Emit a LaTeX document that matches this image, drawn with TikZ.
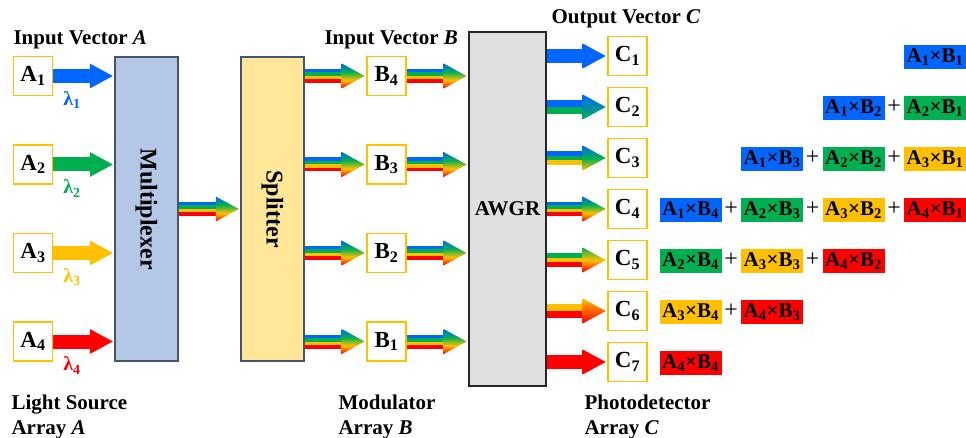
\documentclass[tikz,border=0pt]{standalone}
\usepackage{fontspec}
\setmainfont{Liberation Serif}
\usetikzlibrary{calc}

\definecolor{lblue}{RGB}{0,102,255}
\definecolor{lgreen}{RGB}{0,176,80}
\definecolor{lorange}{RGB}{255,192,0}
\definecolor{lred}{RGB}{255,0,0}
\definecolor{muxfill}{RGB}{180,199,231}
\definecolor{edgegray}{RGB}{68,84,106}
\definecolor{splitfill}{RGB}{255,230,153}
\definecolor{awgrfill}{RGB}{224,224,224}

\newcommand{\headfont}{\fontsize{21}{25}\selectfont\bfseries}
\newcommand{\cellfont}{\fontsize{23}{26}\selectfont\bfseries}
\newcommand{\lamfont}{\fontsize{20}{24}\selectfont\bfseries}
\newcommand{\blockfont}{\fontsize{24}{28}\selectfont\bfseries}

% arrow head shadings (bottom to top)
\pgfdeclareverticalshading{shB}{100bp}{color(0bp)=(lblue); color(100bp)=(lblue)}
\pgfdeclareverticalshading{shG}{100bp}{color(0bp)=(lgreen); color(100bp)=(lgreen)}
\pgfdeclareverticalshading{shO}{100bp}{color(0bp)=(lorange); color(100bp)=(lorange)}
\pgfdeclareverticalshading{shR}{100bp}{color(0bp)=(lred); color(100bp)=(lred)}
\pgfdeclareverticalshading{shBG}{100bp}{color(0bp)=(lgreen); color(25bp)=(lgreen); color(75bp)=(lblue); color(100bp)=(lblue)}
\pgfdeclareverticalshading{shBGO}{100bp}{color(0bp)=(lorange); color(25bp)=(lorange); color(50bp)=(lgreen); color(75bp)=(lblue); color(100bp)=(lblue)}
\pgfdeclareverticalshading{shBGOR}{100bp}{color(0bp)=(lred); color(25bp)=(lred); color(41.67bp)=(lorange); color(58.33bp)=(lgreen); color(75bp)=(lblue); color(100bp)=(lblue)}
\pgfdeclareverticalshading{shGOR}{100bp}{color(0bp)=(lred); color(25bp)=(lred); color(50bp)=(lorange); color(75bp)=(lgreen); color(100bp)=(lgreen)}
\pgfdeclareverticalshading{shOR}{100bp}{color(0bp)=(lred); color(25bp)=(lred); color(75bp)=(lorange); color(100bp)=(lorange)}

% striped block arrow: from, to, stripe colours (top to bottom), head shading
\newcommand{\flowarrow}[4]{%
  \foreach \scol [count=\sk] in {#3} {\xdef\stripen{\sk}}
  \path (#1) coordinate (fs) ($(#2)+(-1.5,0)$) coordinate (fe);
  \foreach \scol [count=\sk] in {#3} {
    \fill[fill=\scol] ($(fs)+(0,{-7+(\sk-1)*14/\stripen})$) rectangle ($(fe)+(-22.5,7)$);
  }
  \shade[shading=#4] ($(fe)+(-23,-12.5)$) -- (fe) -- ($(fe)+(-23,12.5)$) -- cycle;
}

\begin{document}
\begin{tikzpicture}[x=1pt, y=-1pt, every node/.style={font=\headfont},
  cell/.style={draw=lorange, line width=1.6pt, fill=white, minimum size=39pt, inner sep=0pt, font=\cellfont},
  block/.style={line width=1.5pt, minimum width=63pt, minimum height=304pt},
  term/.style={fill=#1, minimum width=62pt, minimum height=24pt, inner sep=0pt, font=\headfont},
  lam/.style={text=#1, font=\lamfont}]
  \useasboundingbox (0,0) rectangle (966,438);

  % Headings
  \node[anchor=west] (hA) at (10,40) {Input Vector \textit{A}};
  \node[anchor=west] (hB) at (321,40) {Input Vector \textit{B}};
  \node[anchor=west] (hC) at (548,19) {Output Vector \textit{C}};

  % Light sources
  \foreach \i/\c in {1/lblue,2/lgreen,3/lorange,4/lred} {
    \node[cell] (A\i) at (33,{76+(\i-1)*88.5}) {A\textsubscript{\i}};
    \node[lam=\c] (l\i) at (72,{100+(\i-1)*88.5}) {λ\textsubscript{\i}};
  }

  % Blocks
  \node[block, draw=edgegray, fill=muxfill] (mux) at (146.5,209) {};
  \node[rotate=-90, font=\blockfont] (muxtxt) at (mux) {Multiplexer};
  \node[block, draw=edgegray, fill=splitfill] (split) at (272.5,209) {};
  \node[rotate=-90, font=\blockfont] (splittxt) at (split) {Splitter};
  \node[block, draw=black!85, line width=1.8pt, fill=awgrfill, minimum width=77pt, minimum height=354pt] (awgr) at (507.5,209) {};
  \node (awgrtxt) at (awgr) {AWGR};

  % Modulators
  \foreach \j in {1,...,4}
    \node[cell] (B\j) at (386.5,{76+(4-\j)*88.5}) {B\textsubscript{\j}};

  % Photodetectors
  \foreach \k in {1,...,7}
    \node[cell] (C\k) at (627.5,{56+(\k-1)*51}) {C\textsubscript{\k}};

  % Arrows
  \foreach \i/\c/\s in {1/lblue/shB,2/lgreen/shG,3/lorange/shO,4/lred/shR} {
    \flowarrow{A\i.east}{mux.west |- A\i}{\c}{\s}
  }
  \flowarrow{mux.east}{split.west}{lblue,lgreen,lorange,lred}{shBGOR}
  \foreach \j in {1,...,4} {
    \flowarrow{split.east |- B\j}{B\j.west}{lblue,lgreen,lorange,lred}{shBGOR}
    \flowarrow{B\j.east}{awgr.west |- B\j}{lblue,lgreen,lorange,lred}{shBGOR}
  }
  \flowarrow{awgr.east |- C1}{C1.west}{lblue}{shB}
  \flowarrow{awgr.east |- C2}{C2.west}{lblue,lgreen}{shBG}
  \flowarrow{awgr.east |- C3}{C3.west}{lblue,lgreen,lorange}{shBGO}
  \flowarrow{awgr.east |- C4}{C4.west}{lblue,lgreen,lorange,lred}{shBGOR}
  \flowarrow{awgr.east |- C5}{C5.west}{lgreen,lorange,lred}{shGOR}
  \flowarrow{awgr.east |- C6}{C6.west}{lorange,lred}{shOR}
  \flowarrow{awgr.east |- C7}{C7.west}{lred}{shR}

  % Products A_i x B_j
  \foreach \i/\c in {1/lblue,2/lgreen,3/lorange,4/lred}
    \foreach \j in {1,...,4} {
      \node[term=\c] (t\i\j) at ({690.5+(4-\j)*81.5},{57+(\i+\j-2)*51}) {A\textsubscript{\i}×B\textsubscript{\j}};
      \ifnum\j>1 \ifnum\i<4
        \node[font=\fontsize{24}{28}\selectfont] (p\i\j) at ({731.25+(4-\j)*81.5},{56+(\i+\j-2)*51}) {+};
      \fi\fi
    }

  % Array labels
  \node[anchor=west, align=left] (srcl) at (8,416.5) {Light Source\\Array \textit{A}};
  \node[anchor=west, align=left] (modl) at (335,416.5) {Modulator\\Array \textit{B}};
  \node[anchor=west, align=left] (detl) at (581,416.5) {Photodetector\\Array \textit{C}};
\end{tikzpicture}
\end{document}
